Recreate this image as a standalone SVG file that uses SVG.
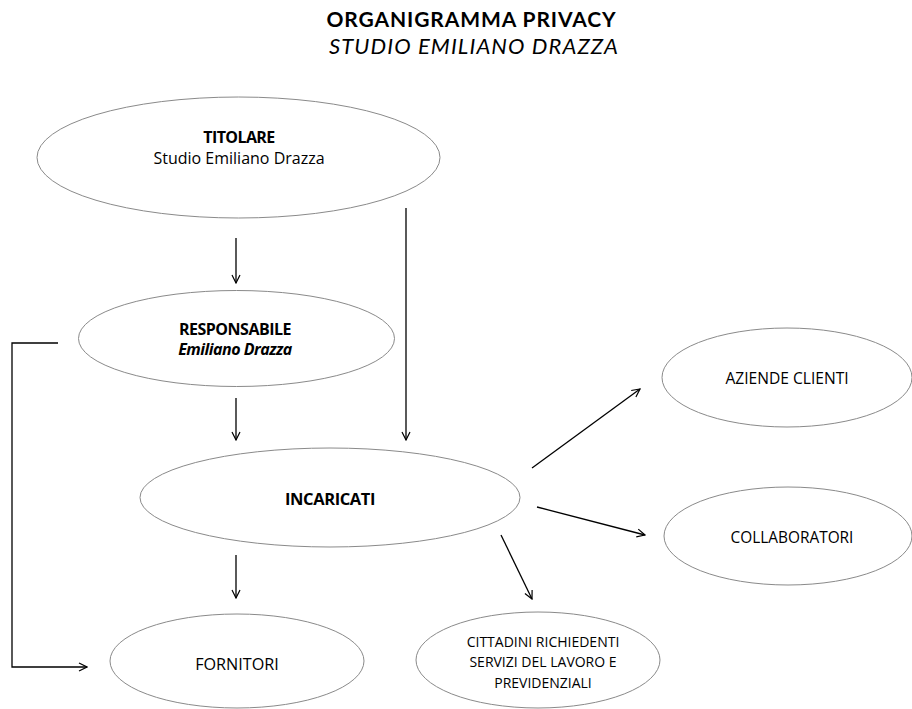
<svg xmlns="http://www.w3.org/2000/svg" width="912" height="709" viewBox="0 0 912 709">
<defs>
<marker id="arr" viewBox="0 0 10 10" refX="9" refY="5" markerWidth="10" markerHeight="10" markerUnits="userSpaceOnUse" orient="auto">
<path d="M1,1 L9,5 L1,9" fill="none" stroke="#000" stroke-width="1.2"/>
</marker>
<style>
.node{fill:#fff;stroke:#8a8a8a;stroke-width:1}
text{font-family:"Open Sans","Noto Sans","DejaVu Sans",sans-serif;fill:#000;text-anchor:middle}
.t{font-family:Lato,"Open Sans",sans-serif}
.b{font-weight:700}
.c{fill:none;stroke:#000;stroke-width:1.3}
</style>
</defs>
<rect width="912" height="709" fill="#fff"/>
<g id="title">
<text class="t" x="471.5" y="27" font-size="21" font-weight="700" letter-spacing="0.9">ORGANIGRAMMA PRIVACY</text>
<text class="t" x="474" y="53.5" font-size="22" font-style="italic" letter-spacing="1.1">STUDIO EMILIANO DRAZZA</text>
</g>
<g id="titolare">
<ellipse class="node" cx="238.5" cy="157.5" rx="201.5" ry="60.5"/>
<text x="239" y="143" font-size="16" class="b" letter-spacing="-0.6">TITOLARE</text>
<text x="239" y="164" font-size="16">Studio Emiliano Drazza</text>
</g>
<g id="responsabile">
<ellipse class="node" cx="236.5" cy="338.5" rx="158" ry="48"/>
<text x="235" y="335" font-size="16" class="b" letter-spacing="-0.5">RESPONSABILE</text>
<text x="235" y="355" font-size="16" class="b" font-style="italic" letter-spacing="-0.5">Emiliano Drazza</text>
</g>
<g id="incaricati">
<ellipse class="node" cx="330" cy="497.5" rx="190" ry="49.5"/>
<text x="330" y="505" font-size="16.5" class="b" letter-spacing="-0.4">INCARICATI</text>
</g>
<g id="aziende">
<ellipse class="node" cx="787" cy="377.5" rx="125" ry="49.5"/>
<text x="787" y="384" font-size="15.6">AZIENDE CLIENTI</text>
</g>
<g id="collaboratori">
<ellipse class="node" cx="788" cy="536" rx="124" ry="49"/>
<text x="792" y="543" font-size="15.4">COLLABORATORI</text>
</g>
<g id="fornitori">
<ellipse class="node" cx="237" cy="661" rx="127" ry="47"/>
<text x="237" y="670" font-size="16.2">FORNITORI</text>
</g>
<g id="cittadini">
<ellipse class="node" cx="538" cy="660" rx="122" ry="48"/>
<text x="543" y="647" font-size="14">CITTADINI RICHIEDENTI</text>
<text x="543" y="667" font-size="14">SERVIZI DEL LAVORO E</text>
<text x="543" y="688" font-size="14">PREVIDENZIALI</text>
</g>
<g id="connectors">
<path class="c" d="M236,238 V283" marker-end="url(#arr)"/>
<path class="c" d="M406,208 V440" marker-end="url(#arr)"/>
<path class="c" d="M236,398 V440" marker-end="url(#arr)"/>
<path class="c" d="M236,555 V598" marker-end="url(#arr)"/>
<path class="c" d="M532,468 L640,389" marker-end="url(#arr)"/>
<path class="c" d="M537,507 L645,535" marker-end="url(#arr)"/>
<path class="c" d="M501,535 L532,599" marker-end="url(#arr)"/>
<path class="c" d="M58,343 H12 V667 H87" marker-end="url(#arr)"/>
</g>
</svg>
